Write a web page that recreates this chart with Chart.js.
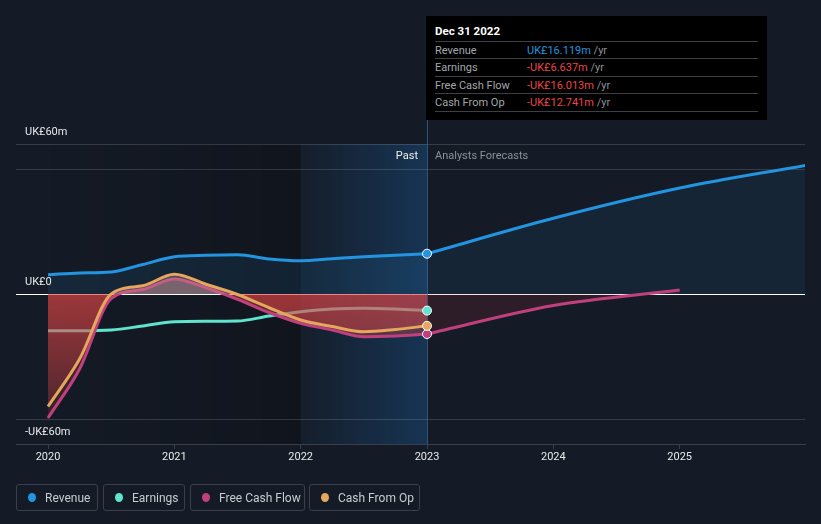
<!DOCTYPE html>
<html>
<head>
<meta charset="utf-8">
<script src="https://cdn.jsdelivr.net/npm/chart.js@4.4.1/dist/chart.umd.min.js"></script>
<style>
  body{margin:0;background:#151b26;font-family:Roboto,"Noto Sans",sans-serif;}
  #wrap{position:relative;width:821px;height:524px;}
  #c{position:absolute;left:0;top:0;}
  .tip{position:absolute;left:426px;top:16px;width:341px;height:104px;background:#000;color:#fff;font-size:11px;}
  .tip .hd{position:absolute;left:9px;top:8px;font-weight:bold;font-size:11.5px;}
  .tip .row{position:absolute;left:9px;width:323px;height:17px;border-top:1px solid #3d3f44;line-height:17px;}
  .tip .row.last{border-bottom:1px solid #3d3f44;}
  .tip .lb{position:absolute;left:0;color:#a3a6ab;}
  .tip .vl{position:absolute;left:92px;color:#8c9096;}
  .tip .blue{color:#2394df}.tip .red{color:#ea4647}
  .lg{position:absolute;top:484px;height:27px;box-sizing:border-box;border:1px solid #3a3f49;border-radius:3px;
      display:flex;align-items:center;padding-left:11px;color:#c8ccd1;font-size:12px;}
  .lg i{display:inline-block;width:8px;height:9px;border-radius:50%;margin-right:9px;}
</style>
</head>
<body>
<div id="wrap">
  <canvas id="c" width="821" height="524"></canvas>
  <div class="tip">
    <div class="hd">Dec 31 2022</div>
    <div class="row" style="top:25px"><span class="lb">Revenue</span><span class="vl"><span class="blue">UK£16.119m</span> /yr</span></div>
    <div class="row" style="top:42px"><span class="lb">Earnings</span><span class="vl"><span class="red">-UK£6.637m</span> /yr</span></div>
    <div class="row" style="top:60px"><span class="lb">Free Cash Flow</span><span class="vl"><span class="red">-UK£16.013m</span> /yr</span></div>
    <div class="row last" style="top:77px"><span class="lb">Cash From Op</span><span class="vl"><span class="red">-UK£12.741m</span> /yr</span></div>
  </div>
  <div class="lg" style="left:16px;width:82px"><i style="background:#2394df"></i>Revenue</div>
  <div class="lg" style="left:103px;width:82px"><i style="background:#5fe5cf"></i>Earnings</div>
  <div class="lg" style="left:190px;width:115px"><i style="background:#c0407d"></i>Free Cash Flow</div>
  <div class="lg" style="left:309px;width:111px"><i style="background:#e6a65d"></i>Cash From Op</div>
</div>
<script>
// values in UK£m, x in fractional years
const yearTicks = [2020, 2021, 2022, 2023, 2024, 2025];
const pastX = [2020, 2020.25, 2020.5, 2020.75, 2021, 2021.25, 2021.5, 2021.75, 2022, 2022.25, 2022.5, 2022.75, 2023];
const revenuePast  = [7.7, 8.4, 8.8, 11.8, 14.9, 15.5, 15.7, 14.0, 13.3, 14.1, 14.9, 15.5, 16.119];
const earningsPast = [-14.7, -14.7, -14.4, -12.8, -11.1, -10.9, -10.8, -8.8, -7.1, -6.0, -5.7, -6.0, -6.637];
const fcfPast      = [-49.6, -30.0, -1.8, 1.8, 6.0, 2.5, -2.1, -7.4, -11.7, -14.4, -17.1, -16.8, -16.013];
const cfoPast      = [-45.0, -26.0, 0.0, 3.3, 7.9, 3.9, -0.2, -5.5, -10.4, -13.0, -15.1, -14.2, -12.741];
const revForecastX = [2023, 2024, 2025, 2026];
const revenueFcst  = [16.119, 30.3, 42.4, 51.5];
const fcfForecastX = [2023, 2024, 2025];
const fcfFcst      = [-16.013, -4.6, 1.6];
const yLabels = ['UK£60m', 'UK£0', '-UK£60m'];

const C = {rev:'#2394df', earn:'#5fe5cf', fcf:'#c0407d', cfo:'#e6a65d'};
const pts = (xs, ys) => xs.map((x, i) => ({x, y: ys[i]}));

function cashFill(ctx){
  const chart = ctx.chart, ca = chart.chartArea;
  if(!ca) return 'rgba(225,70,70,0.3)';
  const y = chart.scales.y;
  const z = (y.getPixelForValue(0) - ca.top) / (ca.bottom - ca.top);
  const g = chart.ctx.createLinearGradient(0, ca.top, 0, ca.bottom);
  g.addColorStop(0, 'rgba(215,160,160,0.30)');
  g.addColorStop(z, 'rgba(215,160,160,0.30)');
  g.addColorStop(Math.min(1, z + 0.001), 'rgba(225,70,70,0.42)');
  g.addColorStop(1, 'rgba(225,70,70,0.07)');
  return g;
}

const bands = {
  id: 'bands',
  beforeDatasetsDraw(chart){
    const {ctx, chartArea: ca, scales: {x, y}} = chart;
    const x0 = x.getPixelForValue(2020), x1 = x.getPixelForValue(2022), x2 = x.getPixelForValue(2023);
    ctx.save();
    let g = ctx.createLinearGradient(x0, 0, x1, 0);
    g.addColorStop(0, 'rgba(0,0,0,0)'); g.addColorStop(1, 'rgba(0,0,0,0.22)');
    ctx.fillStyle = g; ctx.fillRect(x0, ca.top, x1 - x0, ca.bottom - ca.top);
    g = ctx.createLinearGradient(x1, 0, x2, 0);
    g.addColorStop(0, 'rgba(30,130,220,0.03)'); g.addColorStop(1, 'rgba(30,130,220,0.25)');
    ctx.fillStyle = g; ctx.fillRect(x1, ca.top, x2 - x1, ca.bottom - ca.top);
    ctx.strokeStyle = 'rgba(255,255,255,0.14)'; ctx.lineWidth = 1;
    [60, 50, -50].forEach(v => {
      const py = Math.round(y.getPixelForValue(v)) + 0.5;
      ctx.beginPath(); ctx.moveTo(ca.left, py); ctx.lineTo(ca.right, py); ctx.stroke();
    });
    ctx.strokeStyle = '#ffffff';
    const zy = Math.round(y.getPixelForValue(0)) + 0.5;
    ctx.beginPath(); ctx.moveTo(ca.left, zy); ctx.lineTo(ca.right, zy); ctx.stroke();
    ctx.strokeStyle = 'rgba(60,110,150,0.7)';
    ctx.beginPath(); ctx.moveTo(Math.round(x2) + 0.5, 120); ctx.lineTo(Math.round(x2) + 0.5, ca.bottom); ctx.stroke();
    ctx.restore();
  },
  afterDraw(chart){
    const {ctx, chartArea: ca, scales: {x, y}} = chart;
    ctx.save();
    ctx.font = '11px Roboto, "Noto Sans", sans-serif';
    ctx.textBaseline = 'middle';
    ctx.fillStyle = '#e6e8ea';
    [60, 0, -60].forEach((v, i) => ctx.fillText(yLabels[i], ca.left + 9, y.getPixelForValue(v) + (v === -60 ? -12 : -12)));
    const x2 = x.getPixelForValue(2023);
    ctx.textAlign = 'right'; ctx.fillStyle = '#eeeeee';
    ctx.fillText('Past', x2 - 9, ca.top + 12);
    ctx.textAlign = 'left'; ctx.fillStyle = '#8b9097';
    ctx.fillText('Analysts Forecasts', x2 + 8, ca.top + 12);
    ctx.restore();
  }
};

const line = (label, data, color, order, extra) => Object.assign({
  label, data, borderColor: color, borderWidth: 3, pointRadius: 0, order,
  cubicInterpolationMode: 'monotone', fill: false
}, extra || {});

const markerColors = [C.rev, C.earn, C.fcf, C.cfo];

new Chart(document.getElementById('c'), {
  type: 'line',
  data: {
    datasets: [
      {label: 'markers', data: [
          {x: 2023, y: revenuePast[12]}, {x: 2023, y: earningsPast[12]},
          {x: 2023, y: fcfPast[12]}, {x: 2023, y: cfoPast[12]}],
        showLine: false, pointRadius: 4.5, pointBorderWidth: 1, pointBorderColor: '#ffffff',
        pointBackgroundColor: markerColors, order: -1},
      line('Cash From Op', pts(pastX, cfoPast), C.cfo, 0, {fill: 'origin', backgroundColor: cashFill}),
      line('Free Cash Flow', pts(pastX, fcfPast), C.fcf, 1, {fill: 'origin', backgroundColor: cashFill}),
      line('Free Cash Flow fc', pts(fcfForecastX, fcfFcst), C.fcf, 2, {fill: 'origin', backgroundColor: 'rgba(190,40,60,0.14)'}),
      line('Earnings', pts(pastX, earningsPast), C.earn, 3),
      line('Revenue', pts(pastX, revenuePast), C.rev, 4, {fill: 'origin', backgroundColor: 'rgba(35,148,223,0.11)'}),
      line('Revenue fc', pts(revForecastX, revenueFcst), C.rev, 5, {fill: 'origin', backgroundColor: 'rgba(35,148,223,0.09)'})
    ]
  },
  options: {
    responsive: false, animation: false,
    layout: {padding: {left: 16, right: 16, top: 144, bottom: 0}},
    plugins: {legend: {display: false}, tooltip: {enabled: false}},
    scales: {
      x: {
        type: 'linear', min: 2019.7467, max: 2025.992,
        afterBuildTicks: ax => { ax.ticks = yearTicks.map(v => ({value: v})); },
        afterFit: ax => { ax.height = 80; },
        ticks: {color: '#e8eaec', font: {size: 11, family: 'Roboto'}, padding: 2, callback: v => String(v)},
        grid: {drawOnChartArea: false, drawTicks: true, tickLength: 5, color: '#3a3f49'},
        border: {color: '#3a3f49'}
      },
      y: {display: false, min: -60, max: 60}
    }
  },
  plugins: [bands]
});
</script>
</body>
</html>
